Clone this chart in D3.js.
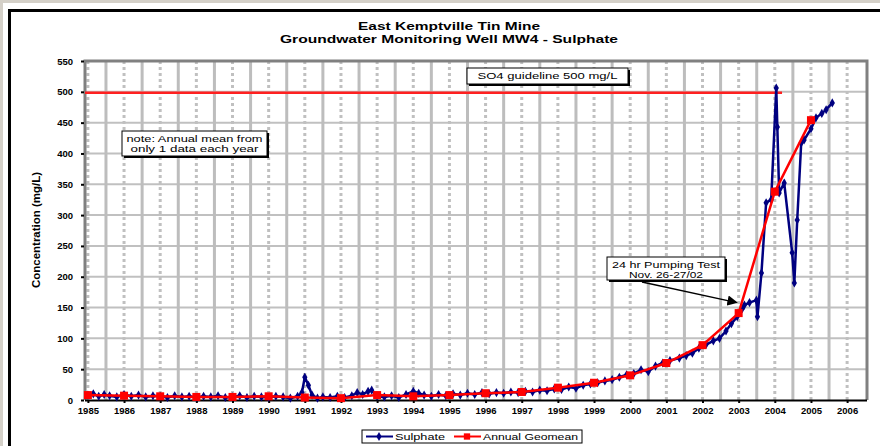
<!DOCTYPE html>
<html>
<head>
<meta charset="utf-8">
<script src="https://cdn.jsdelivr.net/npm/d3@7"></script>
<style>
  body { margin: 0; background: #d4d0c8; }
  svg { display: block; font-family: "Liberation Sans", Arial, sans-serif; }
</style>
</head>
<body>
<div id="chart"></div>
<script>
// chart values
var titleLines = ["East Kemptville Tin Mine", "Groundwater Monitoring Well MW4 - Sulphate"];
var titleWidths = [182, 338];
var yTicks = d3.range(0, 551, 50);
var xYears = d3.range(1985, 2007);

var sulphateYear = [
    1985.0, 1985.15, 1985.3, 1985.45, 1985.6, 1985.8,
    1986.0, 1986.2, 1986.4, 1986.6, 1986.8,
    1987.0, 1987.2, 1987.4, 1987.6, 1987.8,
    1988.0, 1988.2, 1988.4, 1988.6, 1988.8,
    1989.0, 1989.2, 1989.4, 1989.6, 1989.8,
    1990.0, 1990.2, 1990.4, 1990.6, 1990.8,
    1990.92, 1991.0, 1991.1, 1991.2, 1991.35, 1991.5, 1991.7, 1991.9,
    1992.1, 1992.3, 1992.45, 1992.6, 1992.75, 1992.85, 1993.0, 1993.2,
    1993.4, 1993.6, 1993.8, 1994.0, 1994.15, 1994.3, 1994.5, 1994.7,
    1994.9, 1995.1, 1995.3, 1995.5, 1995.7, 1995.9,
    1996.1, 1996.3, 1996.5, 1996.7, 1996.9,
    1997.1, 1997.3, 1997.5, 1997.7, 1997.9,
    1998.1, 1998.3, 1998.5, 1998.7, 1998.9,
    1999.1, 1999.3, 1999.5, 1999.7, 1999.9,
    2000.1, 2000.3, 2000.5, 2000.7, 2000.9,
    2001.1, 2001.36, 2001.55, 2001.72, 2001.9,
    2002.1, 2002.3, 2002.47, 2002.65, 2002.8, 2002.96,
    2003.1, 2003.16, 2003.3, 2003.49, 2003.52, 2003.63, 2003.76, 2003.9,
    2004.04, 2004.07, 2004.12, 2004.26, 2004.48, 2004.54, 2004.62, 2004.73, 2004.81,
    2005.0, 2005.14, 2005.3, 2005.42, 2005.59
];
var sulphateMgL = [
    8, 10, 6, 9, 7, 5,
    9, 6, 8, 5, 7,
    6, 4, 7, 5, 6,
    4, 6, 5, 7, 4,
    5, 7, 4, 6, 5,
    4, 6, 5, 3, 6,
    12, 37, 24, 8, 3, 5, 4, 6,
    4, 7, 12, 9, 14, 16, 6, 5,
    7, 4, 9, 14, 11, 8, 6, 9,
    7, 10, 8, 11, 9, 12,
    10, 12, 11, 13, 12,
    14, 13, 16, 15, 18,
    17, 21, 19, 24, 26,
    28, 31, 33, 37, 41,
    43, 49, 46, 55, 60,
    64, 68, 72, 76, 84,
    90, 96, 100, 112, 124, 135,
    148, 154, 158, 162, 135, 206, 320, 325,
    506, 443, 336, 352, 239, 190, 292, 417, 422,
    440, 458, 465, 471, 482
];

var geomeanYear = d3.range(1985, 2006);
var geomeanMgL = [8, 7, 6, 5, 5, 6, 4, 3, 8, 6, 8, 11, 13, 20, 28, 40, 60, 89, 141, 338, 454];

var guidelineValue = 500;
var guidelineYears = [1984.92, 2004.2];

var width = 880,
    height = 446,
    plotLeft = 85,
    plotRight = 867,
    plotTop = 61,
    plotBottom = 400;

var svg = d3.select("#chart").append("svg")
    .attr("width", width)
    .attr("height", height);

// outer frame
svg.append("rect").attr("x", 0).attr("y", 0).attr("width", width).attr("height", height).attr("fill", "#d4d0c8");
svg.append("rect").attr("x", 3).attr("y", 3).attr("width", width).attr("height", height).attr("fill", "#fff");
svg.append("path")
    .attr("d", "M9.5," + height + "V10.5H" + width)
    .attr("fill", "none")
    .attr("stroke", "#000")
    .attr("stroke-width", 3);

var x = d3.scaleLinear().domain([1984.92, 2006.55]).range([plotLeft, plotRight]);
var y = d3.scaleLinear().domain([0, 550]).range([plotBottom, plotTop]);

// title
svg.selectAll(".title")
   .data(titleLines)
   .enter()
   .append("text")
   .attr("class", "title")
   .attr("x", 449)
   .attr("y", function(d, i) { return 30 + i * 13; })
   .attr("text-anchor", "middle")
   .attr("textLength", function(d, i) { return titleWidths[i]; })
   .attr("lengthAdjust", "spacingAndGlyphs")
   .style("font-size", "11px")
   .style("font-weight", "bold")
   .text(function(d) { return d; });

// grid
var grid = svg.append("g");
grid.selectAll(".hgrid")
    .data(yTicks.filter(function(d) { return d > 0; }))
    .enter().append("line")
    .attr("x1", plotLeft).attr("x2", plotRight)
    .attr("y1", function(d) { return y(d); }).attr("y2", function(d) { return y(d); })
    .attr("stroke", "#c0c0c0").attr("stroke-width", 2);

grid.selectAll(".vgridSolid")
    .data(xYears.map(function(d) { return d + 0.5; }).filter(function(d) { return x(d) < plotRight - 2; }))
    .enter().append("line")
    .attr("x1", function(d) { return x(d); }).attr("x2", function(d) { return x(d); })
    .attr("y1", plotTop).attr("y2", plotBottom)
    .attr("stroke", "#bdbdbd").attr("stroke-width", 3);

grid.selectAll(".vgridDash")
    .data(xYears)
    .enter().append("line")
    .attr("x1", function(d) { return x(d); }).attr("x2", function(d) { return x(d); })
    .attr("y1", plotTop).attr("y2", plotBottom)
    .attr("stroke", "#c0c0c0").attr("stroke-width", 3)
    .attr("stroke-dasharray", "3,3");

// plot border
svg.append("path")
   .attr("d", "M" + plotLeft + "," + plotBottom + "V" + plotTop + "H" + plotRight + "V" + plotBottom)
   .attr("fill", "none")
   .attr("stroke", "#808080")
   .attr("stroke-width", 3);

// axes
var yAxis = svg.append("g")
    .attr("transform", "translate(" + (plotLeft - 1) + ",0)")
    .call(d3.axisLeft(y).tickValues(yTicks).tickSize(3).tickPadding(8));
yAxis.select(".domain").remove();
yAxis.selectAll("text").style("font-size", "9.5px").style("font-weight", "bold").attr("font-family", null);
yAxis.selectAll("line").attr("stroke-width", 2);

var xAxis = svg.append("g")
    .attr("transform", "translate(0," + plotBottom + ")")
    .call(d3.axisBottom(x).tickValues(xYears).tickFormat(d3.format("d")).tickSize(3).tickPadding(4));
xAxis.select(".domain")
     .attr("d", "M" + plotLeft + ",0.5H" + plotRight)
     .attr("stroke-width", 2);
xAxis.selectAll("text").style("font-size", "9.5px").style("font-weight", "bold").attr("font-family", null);
xAxis.selectAll("line").attr("stroke-width", 2);

svg.append("text")
   .attr("transform", "translate(40,230) rotate(-90)")
   .attr("text-anchor", "middle")
   .attr("textLength", 116)
   .attr("lengthAdjust", "spacingAndGlyphs")
   .style("font-size", "10px")
   .style("font-weight", "bold")
   .text("Concentration (mg/L)");

// guideline
svg.append("line")
   .attr("x1", x(guidelineYears[0])).attr("x2", x(guidelineYears[1]))
   .attr("y1", y(guidelineValue) + 1).attr("y2", y(guidelineValue) + 1)
   .attr("stroke", "#ff2020").attr("stroke-width", 2.5);

// series
var line = d3.line()
    .x(function(d) { return x(d[0]); })
    .y(function(d) { return y(d[1]); });

var sulphate = sulphateYear.map(function(d, i) { return [d, sulphateMgL[i]]; });
var geomean = geomeanYear.map(function(d, i) { return [d, geomeanMgL[i]]; });

svg.append("path")
   .datum(sulphate)
   .attr("d", line)
   .attr("fill", "none")
   .attr("stroke", "#000080")
   .attr("stroke-width", 2.5);

svg.selectAll(".sulphatePt")
   .data(sulphate)
   .enter().append("path")
   .attr("class", "sulphatePt")
   .attr("transform", function(d) { return "translate(" + x(d[0]) + "," + y(d[1]) + ")"; })
   .attr("d", d3.symbol().type(d3.symbolDiamond).size(24))
   .attr("fill", "#000080");

svg.append("path")
   .datum(geomean)
   .attr("d", line)
   .attr("fill", "none")
   .attr("stroke", "#ff0000")
   .attr("stroke-width", 2.5);

svg.selectAll(".geoPt")
   .data(geomean)
   .enter().append("rect")
   .attr("class", "geoPt")
   .attr("x", function(d) { return x(d[0]) - 4; })
   .attr("y", function(d) { return y(d[1]) - 4; })
   .attr("width", 8)
   .attr("height", 8)
   .attr("fill", "#ff0000");

// annotation boxes with drop shadow
function noteBox(bx, by, bw, bh, lines, lens) {
    var g = svg.append("g");
    g.append("rect").attr("x", bx + 2).attr("y", by + 2).attr("width", bw).attr("height", bh).attr("fill", "#000");
    g.append("rect").attr("x", bx).attr("y", by).attr("width", bw).attr("height", bh)
     .attr("fill", "#fff").attr("stroke", "#000").attr("stroke-width", 1);
    g.selectAll("text")
     .data(lines)
     .enter().append("text")
     .attr("x", bx + bw / 2)
     .attr("y", function(d, i) { return by + 11 + i * 10; })
     .attr("text-anchor", "middle")
     .attr("textLength", function(d, i) { return lens[i]; })
     .attr("lengthAdjust", "spacingAndGlyphs")
     .style("font-size", "9.5px")
     .text(function(d) { return d; });
}

noteBox(467, 68, 161, 16, ["SO4 guideline 500 mg/L"], [140]);
noteBox(122, 131, 145, 25, ["note: Annual mean from", "only 1 data each year"], [136, 128]);
noteBox(607, 257, 118, 23, ["24 hr Pumping Test", "Nov. 26-27/02"], [108, 74]);

// arrow to pumping test
svg.append("defs").append("marker")
   .attr("id", "arrow")
   .attr("viewBox", "0 0 10 10")
   .attr("refX", 9).attr("refY", 5)
   .attr("markerWidth", 7).attr("markerHeight", 7)
   .attr("orient", "auto")
   .append("path").attr("d", "M0,0L10,5L0,10z").attr("fill", "#000");

svg.append("line")
   .attr("x1", 642).attr("y1", 282)
   .attr("x2", x(2002.95)).attr("y2", y(158))
   .attr("stroke", "#000").attr("stroke-width", 1.5)
   .attr("marker-end", "url(#arrow)");

// legend
var legend = svg.append("g").attr("transform", "translate(362,430)");
legend.append("rect").attr("width", 220).attr("height", 13)
      .attr("fill", "#fff").attr("stroke", "#000").attr("stroke-width", 1);

var legendItems = [
    {name: "Sulphate", color: "#000080", shape: "diamond", x: 4, len: 50},
    {name: "Annual Geomean", color: "#ff0000", shape: "square", x: 92, len: 95}
];
var item = legend.selectAll(".legendItem")
    .data(legendItems)
    .enter().append("g")
    .attr("transform", function(d) { return "translate(" + d.x + ",6.5)"; });
item.append("line").attr("x1", 0).attr("x2", 27)
    .attr("stroke", function(d) { return d.color; }).attr("stroke-width", 2);
item.append("path")
    .attr("transform", "translate(13,0)")
    .attr("d", function(d) {
        return d3.symbol().type(d.shape === "diamond" ? d3.symbolDiamond : d3.symbolSquare).size(d.shape === "diamond" ? 24 : 40)();
    })
    .attr("fill", function(d) { return d.color; });
item.append("text")
    .attr("x", 29).attr("y", 3.5)
    .attr("textLength", function(d) { return d.len; })
    .attr("lengthAdjust", "spacingAndGlyphs")
    .style("font-size", "9.5px")
    .text(function(d) { return d.name; });
</script>
</body>
</html>
